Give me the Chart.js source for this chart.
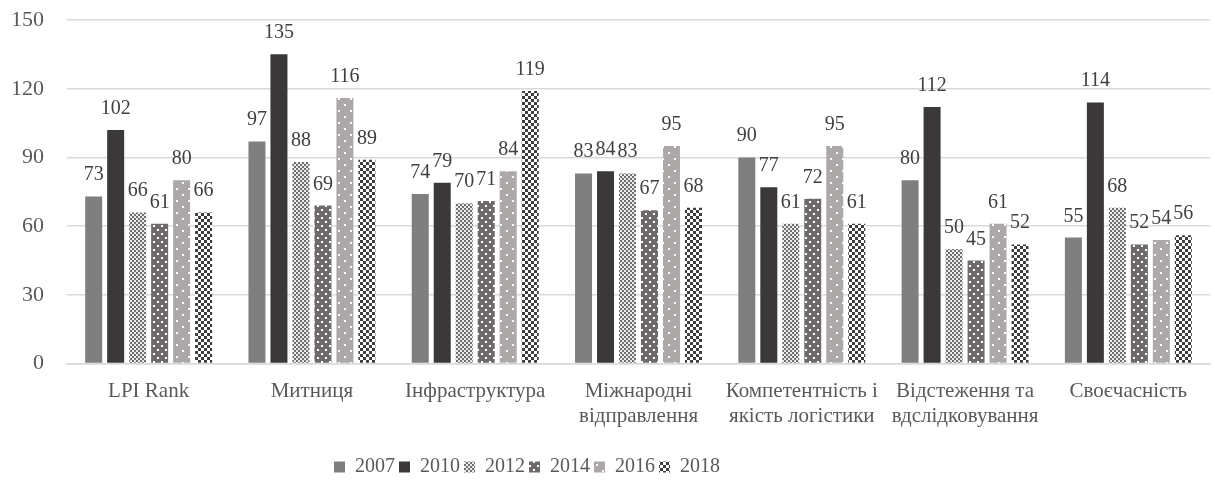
<!DOCTYPE html>
<html lang="uk">
<head>
    <meta charset="UTF-8">
    <title>LPI</title>
    <script src="https://cdn.jsdelivr.net/npm/chart.js"></script>
    <style>
        body {
            margin: 0;
            background-color: #ffffff;
        }
        .wrap {
            width: 1215px;
            height: 480px;
        }
    </style>
</head>
<body>
    <div class="wrap">
        <canvas id="lpiChart" width="1215" height="480"></canvas>
    </div>

    <script>
        // Категорії та значення за роками
        const categories = [
            'LPI Rank',
            'Митниця',
            'Інфраструктура',
            ['Міжнародні', 'відправлення'],
            ['Компетентність і', 'якість логістики'],
            ['Відстеження та', 'вдслідковування'],
            'Своєчасність'
        ];
        const years = ['2007', '2010', '2012', '2014', '2016', '2018'];
        const values2007 = [73, 97, 74, 83, 90, 80, 55];
        const values2010 = [102, 135, 79, 84, 77, 112, 114];
        const values2012 = [66, 88, 70, 83, 61, 50, 68];
        const values2014 = [61, 69, 71, 67, 72, 45, 52];
        const values2016 = [80, 116, 84, 95, 95, 61, 54];
        const values2018 = [66, 89, 119, 68, 61, 52, 56];
        const yTicks = [0, 30, 60, 90, 120, 150];

        const serif = '"Liberation Serif", "Times New Roman", serif';
        const canvas = document.getElementById('lpiChart');
        const ctx = canvas.getContext('2d');

        // Заливки-візерунки для стовпців
        function tile(size, bg, draw) {
            const c = document.createElement('canvas');
            c.width = size;
            c.height = size;
            const g = c.getContext('2d');
            g.fillStyle = bg;
            g.fillRect(0, 0, size, size);
            draw(g);
            return ctx.createPattern(c, 'repeat');
        }

        const fineChecker = tile(4, '#e6e6e6', g => {
            g.fillStyle = '#6f6f6f';
            g.fillRect(0, 0, 2, 2);
            g.fillRect(2, 2, 2, 2);
            g.fillStyle = '#ffffff';
            g.fillRect(3, 1, 1, 1);
            g.fillRect(1, 3, 1, 1);
        });
        const darkDots = tile(8, '#6e6a6a', g => {
            g.fillStyle = '#ffffff';
            g.fillRect(1, 1, 2, 2);
            g.fillRect(5, 5, 2, 2);
        });
        const lightDots = tile(12, '#aca8a8', g => {
            g.fillStyle = '#ffffff';
            g.fillRect(2, 2, 2, 2);
            g.fillRect(8, 8, 2, 2);
        });
        const checker = tile(6, '#ffffff', g => {
            g.fillStyle = '#3d3d3d';
            g.fillRect(0, 0, 3, 3);
            g.fillRect(3, 3, 3, 3);
        });

        const series = [values2007, values2010, values2012, values2014, values2016, values2018];
        const fills = ['#7f7f7f', '#3a3838', fineChecker, darkDots, lightDots, checker];

        const datasets = years.map((y, i) => ({
            label: y,
            data: series[i],
            backgroundColor: fills[i],
            borderWidth: 0,
            categoryPercentage: 0.808,
            barPercentage: 0.773
        }));

        // Підписи значень над стовпцями
        const valueLabels = {
            id: 'valueLabels',
            afterDatasetsDraw(chart) {
                const c = chart.ctx;
                c.save();
                c.font = '20px ' + serif;
                c.fillStyle = '#404040';
                c.textAlign = 'center';
                c.textBaseline = 'alphabetic';
                chart.data.datasets.forEach((ds, i) => {
                    chart.getDatasetMeta(i).data.forEach((bar, j) => {
                        c.fillText(ds.data[j], bar.x, bar.y - 16);
                    });
                });
                c.restore();
            }
        };

        // Легенда трохи лівіше та нижче стандартного місця
        const legendShift = {
            id: 'legendShift',
            afterLayout(chart) {
                const lg = chart.legend;
                if (lg) {
                    lg.left -= 82;
                    lg.right -= 82;
                    lg.top += 9;
                    lg.bottom += 9;
                }
            }
        };

        new Chart(ctx, {
            type: 'bar',
            data: {
                labels: categories,
                datasets: datasets
            },
            plugins: [valueLabels, legendShift],
            options: {
                responsive: false,
                animation: false,
                layout: {
                    padding: { top: 20, left: 8, right: 5, bottom: 2 }
                },
                plugins: {
                    legend: {
                        position: 'bottom',
                        labels: {
                            boxWidth: 11,
                            boxHeight: 11,
                            padding: 4,
                            color: '#595959',
                            font: { family: serif, size: 20 }
                        }
                    },
                    tooltip: { enabled: false }
                },
                scales: {
                    x: {
                        grid: { display: false, drawTicks: false },
                        border: { color: '#d9d9d9', width: 1.5 },
                        ticks: {
                            color: '#595959',
                            padding: 15,
                            maxRotation: 0,
                            autoSkip: false,
                            font: { family: serif, size: 21, lineHeight: 1.2 }
                        }
                    },
                    y: {
                        min: 0,
                        max: 150,
                        afterBuildTicks(axis) {
                            axis.ticks = yTicks.map(v => ({ value: v }));
                        },
                        grid: {
                            color: '#d9d9d9',
                            lineWidth: 1.5,
                            drawTicks: true,
                            tickLength: 20,
                            tickColor: 'rgba(0,0,0,0)'
                        },
                        border: { display: false },
                        ticks: {
                            color: '#595959',
                            padding: 3,
                            font: { family: serif, size: 22, lineHeight: 0.8 }
                        }
                    }
                }
            }
        });
    </script>
</body>
</html>
